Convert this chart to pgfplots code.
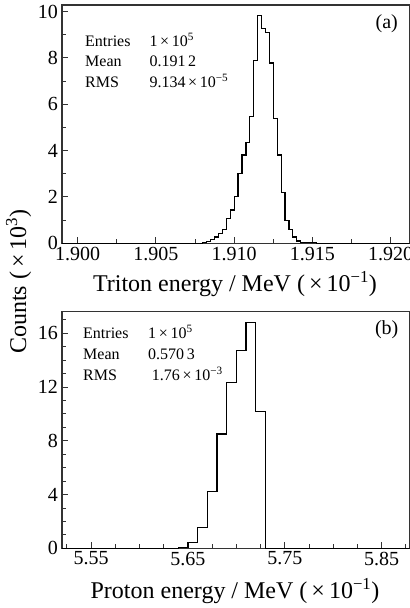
\documentclass[border=0pt]{standalone}
\usepackage{fontspec}
\setmainfont{Liberation Serif}
\usepackage{pgfplots}
\pgfplotsset{compat=1.18}
\definecolor{axgray}{HTML}{333333}
\pgfplotsset{hist/.style={
  scale only axis, width=347.5bp,
  tick pos=left, tick align=inside,
  axis line style={line width=1.1bp, draw=axgray},
  major tick length=6bp, minor tick length=4bp,
  every tick/.style={line width=0.9bp, draw=axgray},
  tick label style={font=\fontsize{20bp}{20bp}\selectfont},
  yticklabel style={inner sep=0pt, xshift=-4bp},
  ymin=0,
}}
\begin{document}
\begin{tikzpicture}
\useasboundingbox (0bp,0bp) rectangle (410bp,608bp);
% ---------------- (a) ----------------
\begin{axis}[hist, at={(62bp,364.7bp)}, anchor=south west, height=238.3bp,
  xmin=1.899, xmax=1.9212, ymax=10.28,
  xtick={1.900,1.905,1.910,1.915,1.920},
  xticklabels={1.900,1.905,1.910,1.915,1.920},
  minor xtick={1.9025,1.9075,1.9125,1.9175},
  ytick={0,2,4,6,8,10}, yticklabels={0,2,4,6,8,10},
  minor ytick={1,3,5,7,9}]
\addplot[const plot, black, line width=1.2bp] table {
x y
1.8990 0
1.9080 0.04
1.90825 0.09
1.9085 0.17
1.90875 0.27
1.9090 0.43
1.90925 0.60
1.9095 1.07
1.90975 1.44
1.9100 2.01
1.91025 3.00
1.9105 3.81
1.91075 4.35
1.9110 5.48
1.91125 7.88
1.9115 9.82
1.91175 9.27
1.9120 9.08
1.91225 7.78
1.9125 5.40
1.91275 3.81
1.9130 2.19
1.91325 0.99
1.9135 0.58
1.91375 0.27
1.9140 0.10
1.91425 0.03
1.9145 0.03
1.91475 0.02
1.9150 0.02
1.91525 0
1.9212 0
};
\end{axis}
% ---------------- (b) ----------------
\begin{axis}[hist, at={(62bp,59.7bp)}, anchor=south west, height=236.6bp,
  xmin=5.52, xmax=5.8787, ymax=17.6,
  xtick={5.55,5.65,5.75,5.85},
  xticklabels={5.55,5.65,5.75,5.85},
  minor xtick={5.525,5.575,5.60,5.625,5.675,5.70,5.725,5.775,5.80,5.825,5.875},
  ytick={0,4,8,12,16}, yticklabels={0,4,8,12,16},
  minor ytick={1,2,3,5,6,7,9,10,11,13,14,15,17}]
\addplot[const plot, black, line width=1.2bp] table {
x y
5.52 0
5.64 0.05
5.65 0.42
5.66 1.56
5.67 4.20
5.68 8.50
5.69 12.35
5.70 14.70
5.71 16.80
5.72 10.20
5.73 0
5.8787 0
};
\end{axis}
% ---------------- texts ----------------
\begin{scope}[every node/.style={inner sep=0pt}]
\node[anchor=base, rotate=90, font=\fontsize{24bp}{24bp}\selectfont] at (26bp,326.5bp) {Counts (\,×\,10\textsuperscript{3})};
\node[anchor=base, font=\fontsize{24bp}{24bp}\selectfont] at (235bp,316.3bp) {Triton energy / MeV (\,×\,10\textsuperscript{−1})};
\node[anchor=base, font=\fontsize{24bp}{24bp}\selectfont] at (235bp,9.7bp) {Proton energy / MeV (\,×\,10\textsuperscript{−1})};
\node[anchor=base, font=\fontsize{20bp}{20bp}\selectfont] at (386.7bp,579bp) {(a)};
\node[anchor=base, font=\fontsize{20bp}{20bp}\selectfont] at (386.7bp,273bp) {(b)};
\begin{scope}[every node/.append style={anchor=base west, font=\fontsize{16bp}{16bp}\selectfont}]
\node at (85bp,561.3bp) {Entries};
\node at (85bp,541.3bp) {Mean};
\node at (85bp,520.2bp) {RMS};
\node at (149.3bp,561.3bp) {1\,×\,10\textsuperscript{5}};
\node at (149.3bp,541.3bp) {0.191\,2};
\node at (149.3bp,520.2bp) {9.134\,×\,10\textsuperscript{−5}};
\node at (83bp,269.7bp) {Entries};
\node at (83bp,248.7bp) {Mean};
\node at (83bp,227.3bp) {RMS};
\node at (148bp,269.7bp) {1\,×\,10\textsuperscript{5}};
\node at (148bp,248.7bp) {0.570\,3};
\node at (151.7bp,227.3bp) {1.76\,×\,10\textsuperscript{−3}};
\end{scope}
\end{scope}
\end{tikzpicture}
\end{document}
